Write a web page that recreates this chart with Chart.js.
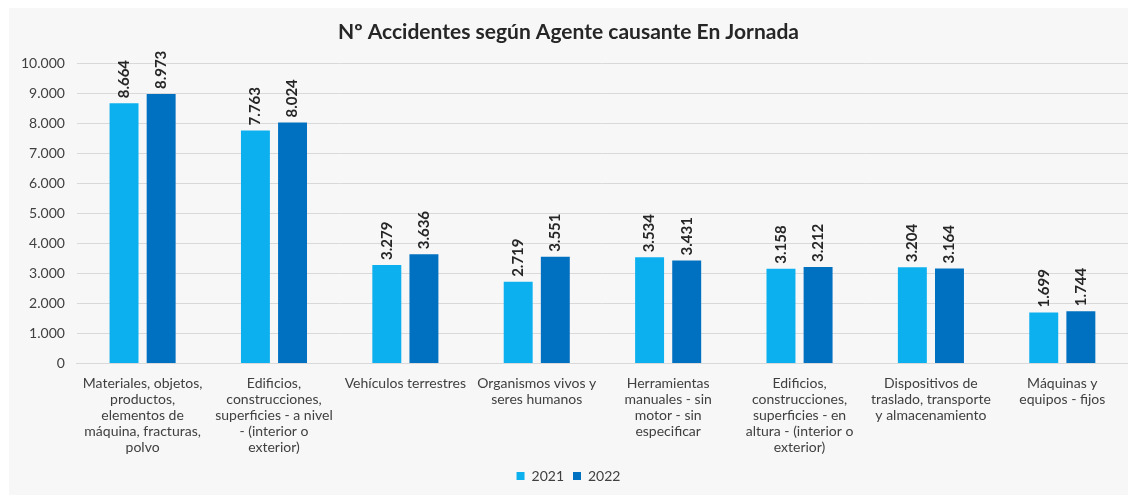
<!DOCTYPE html>
<html>
<head>
<meta charset="utf-8">
<script src="https://cdn.jsdelivr.net/npm/chart.js@4/dist/chart.umd.min.js"></script>
<style>
  html, body { margin: 0; padding: 0; background: #fff; }
  #panel { position: absolute; left: 9px; top: 8px; width: 1119px; height: 487px; background: #f7f7f7; }
</style>
</head>
<body>
<div id="panel"><canvas id="myChart" width="1119" height="487"></canvas></div>
<script>
const categorias = [
  ["Materiales, objetos,", "productos,", "elementos de", "máquina, fracturas,", "polvo"],
  ["Edificios,", "construcciones,", "superficies - a nivel", "- (interior o", "exterior)"],
  ["Vehículos terrestres"],
  ["Organismos vivos y", "seres humanos"],
  ["Herramientas", "manuales - sin", "motor - sin", "especificar"],
  ["Edificios,", "construcciones,", "superficies - en", "altura - (interior o", "exterior)"],
  ["Dispositivos de", "traslado, transporte", "y almacenamiento"],
  ["Máquinas y", "equipos - fijos"]
];
const valores2021 = [8664, 7763, 3279, 2719, 3534, 3158, 3204, 1699];
const valores2022 = [8973, 8024, 3636, 3551, 3431, 3212, 3164, 1744];
const ticksY = [0, 1000, 2000, 3000, 4000, 5000, 6000, 7000, 8000, 9000, 10000];

const FUENTE = "Lato, 'Open Sans', sans-serif";

// separador de miles con punto
const fmt = (v) => String(v).replace(/\B(?=(\d{3})+(?!\d))/g, ".");

const etiquetasBarras = {
  id: "etiquetasBarras",
  afterDatasetsDraw(chart) {
    const { ctx } = chart;
    ctx.save();
    ctx.font = "bold 15px " + FUENTE;
    ctx.fillStyle = "#262626";
    ctx.textAlign = "left";
    ctx.textBaseline = "middle";
    chart.data.datasets.forEach((ds, i) => {
      chart.getDatasetMeta(i).data.forEach((bar, j) => {
        ctx.save();
        ctx.translate(bar.x, bar.y - 5);
        ctx.rotate(-Math.PI / 2);
        ctx.fillText(fmt(ds.data[j]), 0, 0);
        ctx.restore();
      });
    });
    ctx.restore();
  }
};

const ctx = document.getElementById("myChart");
new Chart(ctx, {
  type: "bar",
  data: {
    labels: categorias,
    datasets: [
      { label: "2021", data: valores2021, backgroundColor: "#0cb0ef", barPercentage: 0.78, categoryPercentage: 0.565 },
      { label: "2022", data: valores2022, backgroundColor: "#0070c0", barPercentage: 0.78, categoryPercentage: 0.565 }
    ]
  },
  options: {
    responsive: false,
    animation: false,
    layout: { padding: { left: 0, right: 0, top: 2, bottom: 2 } },
    plugins: {
      title: {
        display: true,
        text: "Nº Accidentes según Agente causante En Jornada",
        color: "#262626",
        font: { family: FUENTE, size: 21, weight: "bold" },
        padding: { top: 10, bottom: 18 }
      },
      legend: {
        position: "bottom",
        labels: {
          color: "#404040",
          font: { family: FUENTE, size: 14 },
          boxWidth: 8,
          boxHeight: 8,
          padding: 9
        }
      },
      tooltip: { enabled: false }
    },
    scales: {
      x: {
        grid: { display: false },
        border: { color: "#d9d9d9" },
        ticks: {
          color: "#404040",
          font: { family: FUENTE, size: 14, lineHeight: 1.15 },
          maxRotation: 0,
          autoSkip: false,
          padding: 4
        }
      },
      y: {
        min: 0,
        max: 10000,
        afterBuildTicks: (axis) => { axis.ticks = ticksY.map((v) => ({ value: v })); },
        grid: { color: "#d9d9d9", drawTicks: false },
        border: { display: false },
        ticks: {
          color: "#404040",
          font: { family: FUENTE, size: 14 },
          padding: 12,
          callback: (v) => fmt(v)
        }
      }
    }
  },
  plugins: [etiquetasBarras]
});
</script>
</body>
</html>
